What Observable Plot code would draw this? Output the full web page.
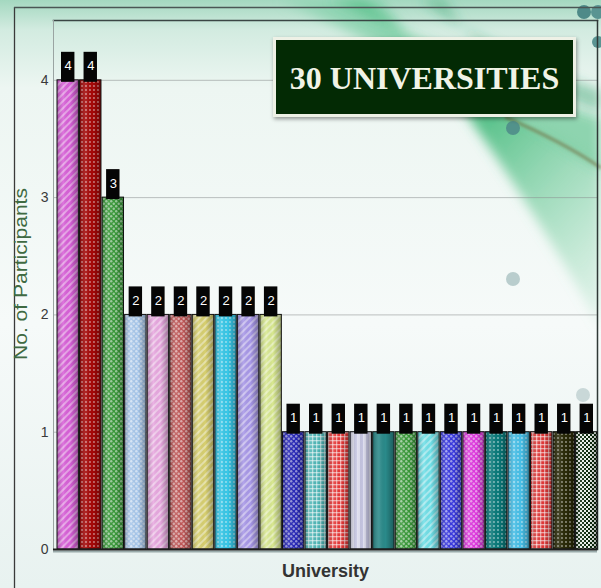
<!DOCTYPE html>
<html>
<head>
<meta charset="utf-8">
<script src="https://cdn.jsdelivr.net/npm/d3@7"></script>
<script src="https://cdn.jsdelivr.net/npm/@observablehq/plot@0.6"></script>
<style>
  html, body { margin:0; padding:0; background:#eef5f3; }
  #wrap { position:relative; width:601px; height:588px; overflow:hidden; font-family:"Liberation Sans", Arial, sans-serif; }
  #bg, #chart { position:absolute; left:0; top:0; }
  #titlebox {
    position:absolute; left:273px; top:37px; width:297px; height:74px;
    background:#032a04; border:3px solid #eef1e6;
    box-shadow: 1px 2px 4px rgba(0,0,0,0.4);
    color:#f1f3e6; font-family:"Liberation Serif","DejaVu Serif",serif; font-weight:bold;
    font-size:32px; line-height:76px; text-align:center;
  }
</style>
</head>
<body>
<div id="wrap">
<svg id="bg" width="601" height="588">
  <defs>
    <linearGradient id="bgGrad" x1="0" y1="0" x2="0" y2="1">
      <stop offset="0" stop-color="#a4d8c0"/>
      <stop offset="0.05" stop-color="#d2ebe0"/>
      <stop offset="0.15" stop-color="#edf6f2"/>
      <stop offset="0.55" stop-color="#f6faf9"/>
      <stop offset="1" stop-color="#e8f2f0"/>
    </linearGradient>
    <linearGradient id="swoosh" x1="0" y1="0" x2="1" y2="1">
      <stop offset="0" stop-color="#7fd0a8" stop-opacity="0.45"/>
      <stop offset="0.5" stop-color="#3fb878" stop-opacity="0.85"/>
      <stop offset="1" stop-color="#8fd8b0" stop-opacity="0.15"/>
    </linearGradient>
    <filter id="blur" x="-20%" y="-20%" width="140%" height="140%"><feGaussianBlur stdDeviation="6"/></filter>
    <filter id="blur2"><feGaussianBlur stdDeviation="1.5"/></filter>
    <!-- bar patterns -->
    <pattern id="pat-diag" width="5" height="5" patternUnits="userSpaceOnUse" patternTransform="rotate(45)">
      <rect width="2" height="5" fill="#fff" fill-opacity="0.42"/>
    </pattern>
    <pattern id="pat-dots" width="4" height="4" patternUnits="userSpaceOnUse">
      <circle cx="2" cy="2" r="0.9" fill="#fff" fill-opacity="0.55"/>
    </pattern>
    <pattern id="pat-bigdots" width="5" height="5" patternUnits="userSpaceOnUse">
      <circle cx="1.25" cy="1.25" r="1.2" fill="#fff" fill-opacity="0.5"/>
      <circle cx="3.75" cy="3.75" r="1.2" fill="#fff" fill-opacity="0.5"/>
    </pattern>
    <pattern id="pat-grid" width="4" height="4" patternUnits="userSpaceOnUse">
      <rect width="4" height="1.3" fill="#fff" fill-opacity="0.55"/>
      <rect width="1.3" height="4" fill="#fff" fill-opacity="0.55"/>
    </pattern>
    <pattern id="pat-vert" width="6" height="6" patternUnits="userSpaceOnUse">
      <rect width="3" height="6" fill="#a8a8d0" fill-opacity="0.5"/>
    </pattern>
    <pattern id="pat-darkcheck" width="4" height="4" patternUnits="userSpaceOnUse">
      <rect width="2" height="2" fill="#0d2a0d"/>
      <rect x="2" y="2" width="2" height="2" fill="#0d2a0d"/>
    </pattern>
    <pattern id="pat-none" width="4" height="4" patternUnits="userSpaceOnUse"></pattern>
    <linearGradient id="shade" x1="0" y1="0" x2="1" y2="0">
      <stop offset="0" stop-color="#000" stop-opacity="0.25"/>
      <stop offset="0.3" stop-color="#fff" stop-opacity="0.12"/>
      <stop offset="0.6" stop-color="#000" stop-opacity="0"/>
      <stop offset="1" stop-color="#000" stop-opacity="0.32"/>
    </linearGradient>
  </defs>
  <rect width="601" height="588" fill="url(#bgGrad)"/>
  <path d="M280,0 C400,55 520,110 601,165 L601,330 C560,250 470,110 380,0 Z" fill="url(#swoosh)" filter="url(#blur)"/>
  <path d="M330,0 C430,40 520,90 601,118 L601,170 C520,118 430,60 365,0 Z" fill="#3fb878" fill-opacity="0.55" filter="url(#blur)"/>
  <path d="M420,0 C480,40 540,70 601,90 L601,112 C540,92 470,50 445,0 Z" fill="#2f9f68" fill-opacity="0.45" filter="url(#blur)"/>
  <path d="M505,117 C540,132 575,150 601,168" stroke="#6f6a3a" stroke-opacity="0.6" stroke-width="3" fill="none" filter="url(#blur2)"/>
  <circle cx="584" cy="12" r="7" fill="#4e8a88"/>
  <circle cx="598" cy="12" r="7" fill="#5a9492"/>
  <circle cx="598" cy="42" r="6" fill="#5a9492"/>
  <circle cx="513" cy="128" r="7" fill="#4f8c8a" fill-opacity="0.9"/>
  <circle cx="513" cy="279" r="7" fill="#b9cdcd"/>
  <circle cx="583" cy="395" r="7" fill="#c9d8d8"/>
  <line x1="14.5" y1="7" x2="14.5" y2="588" stroke="#3a3a3a" stroke-width="1.3"/>
  <line x1="14" y1="7.5" x2="601" y2="7.5" stroke="#4a5654" stroke-width="1.3"/>
</svg>
<div id="chart"></div>
<div id="titlebox">30 UNIVERSITIES</div>
</div>
<script>
// ---- data ----
const universities = ["U1","U2","U3","U4","U5","U6","U7","U8","U9","U10","U11","U12",
                      "U13","U14","U15","U16","U17","U18","U19","U20","U21","U22","U23","U24"];
const participants = [4,4,3,2,2,2,2,2,2,2,1,1,1,1,1,1,1,1,1,1,1,1,1,1];
const barColors = ["#d860d8","#a60808","#3a9a3a","#a8c8ec","#e8a8e0","#c05858","#d8d070","#38c8e8",
                   "#a898e8","#d8e890","#2828b8","#50b8b8","#e83838","#e2e2f2","#2a8a8a","#3a9a3a",
                   "#70e0e8","#3838e0","#e038e0","#0a7a7a","#48c0e8","#e03838","#2a2a08","#eef4ee"];
const barPatterns = ["diag","dots","bigdots","bigdots","diag","bigdots","diag","dots",
                     "diag","diag","bigdots","grid","grid","vert","none","bigdots",
                     "diag","bigdots","bigdots","dots","dots","grid","dots","darkcheck"];
const yTicks = [0,1,2,3,4];
const yTitle = "No. of Participants";
const xTitle = "University";

const data = universities.map((u, i) => ({name: u, v: participants[i], color: barColors[i], pat: barPatterns[i]}));

const chart = Plot.plot({
  width: 601,
  height: 588,
  marginLeft: 53,
  marginRight: 4,
  marginTop: 20,
  marginBottom: 39,
  style: {background: "transparent", fontFamily: "'Liberation Sans', Arial, sans-serif", overflow: "visible"},
  x: {domain: universities, paddingInner: 0.05, paddingOuter: 0, round: false, insetLeft: 4, axis: null},
  y: {domain: [0, 4.51]},
  color: {type: "identity"},
  marks: [
    Plot.gridY(yTicks.filter(t => t > 0), {stroke: "#8a9090", strokeOpacity: 0.55}),
    Plot.frame({anchor: "top", stroke: "#3a4644", strokeWidth: 1.5}),
    Plot.frame({anchor: "right", stroke: "#2f3836", strokeWidth: 1.5}),
    Plot.frame({anchor: "left", stroke: "#9aa4a2", strokeWidth: 1}),
    Plot.barY(data, {x: "name", y: "v", fill: "color"}),
    Plot.barY(data, {x: "name", y: "v", fill: d => `url(#pat-${d.pat})`}),
    Plot.barY(data, {x: "name", y: "v", fill: "url(#shade)", stroke: "#111", strokeWidth: 1}),
    Plot.ruleY([0], {stroke: "#9aa", strokeWidth: 2, dy: 2}),
    Plot.ruleY([0], {stroke: "#1e1e1e", strokeWidth: 2.2}),
    Plot.barY(data, {x: "name", y1: "v", y2: "v", insetTop: -28, insetBottom: -2, insetLeft: 4, insetRight: 4, fill: "#050505"}),
    Plot.text(data, {x: "name", y: "v", text: d => String(d.v), dy: -14, fill: "white", fontSize: 13}),
    Plot.axisY({ticks: yTicks, tickFormat: d => String(d), tickSize: 0, tickPadding: 5, fontSize: 14, color: "#3a3a3a", label: null}),
    Plot.text([yTitle], {text: d => d, frameAnchor: "left", textAnchor: "middle", rotate: -90, dx: -32, dy: -11, fontSize: 18, fill: "#3f6a42", className: "ytitle"}),
    Plot.text([xTitle], {text: d => d, frameAnchor: "bottom", dy: 27, fontSize: 18, fontWeight: "bold", fill: "#333"})
  ]
});
document.getElementById("chart").appendChild(chart);
// stretch the y title glyphs along its length, as in the reference
d3.select(chart).selectAll(".ytitle text").attr("transform", function () {
  return (this.getAttribute("transform") || "") + " scale(1.17,1)";
});
</script>
</body>
</html>
